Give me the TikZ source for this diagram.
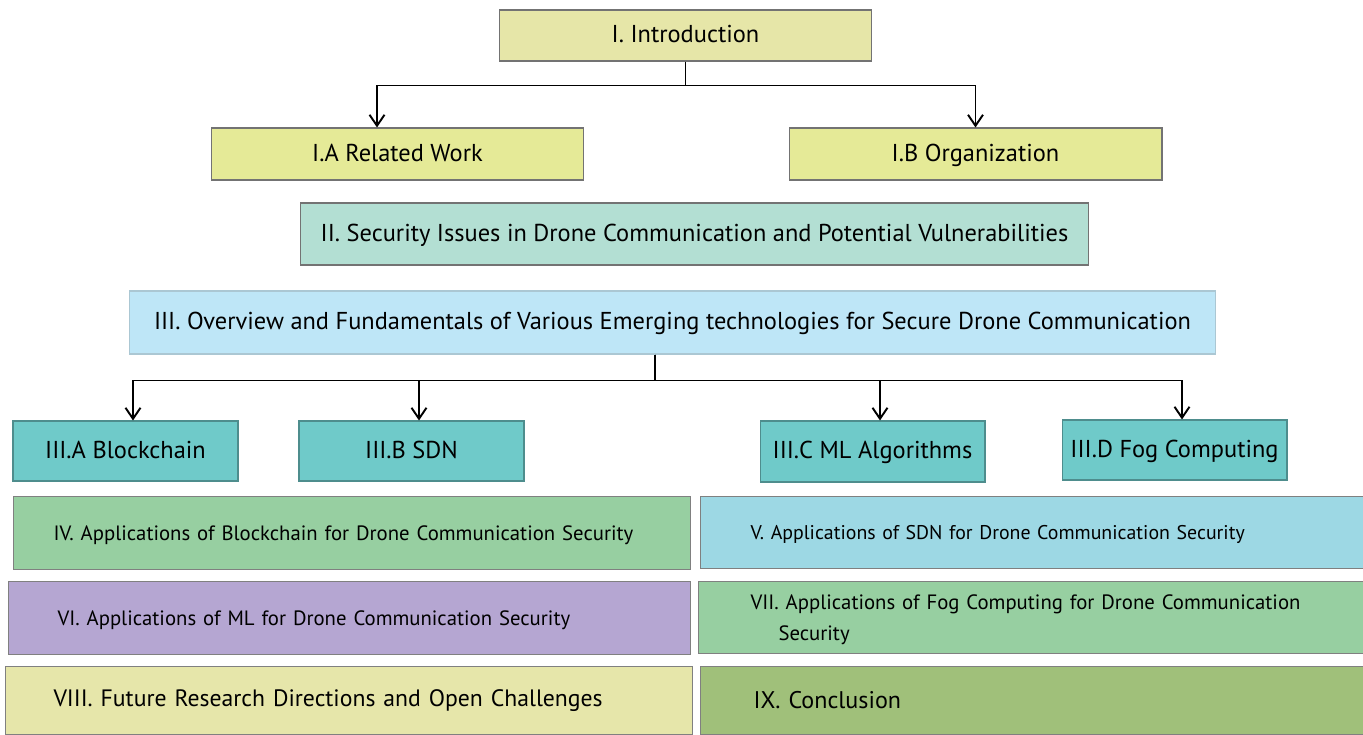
\documentclass[tikz,border=0pt]{standalone}
\usepackage{fontspec}
\setmainfont{PT Sans}
\usetikzlibrary{arrows.meta}

\definecolor{introcol}{HTML}{E6E6A8}
\definecolor{subcol}{HTML}{E5EA97}
\definecolor{secIIcol}{HTML}{B3DFD3}
\definecolor{secIIIcol}{HTML}{BEE6F7}
\definecolor{techcol}{HTML}{6FCAC9}
\definecolor{greencol}{HTML}{97CFA1}
\definecolor{bluecol}{HTML}{9DD8E4}
\definecolor{violetcol}{HTML}{B5A6D2}
\definecolor{futurecol}{HTML}{E6E6AA}
\definecolor{conclcol}{HTML}{A0C07A}

\tikzset{
  topbox/.style={draw=black!55, line width=0.6pt, inner sep=0pt, text height=2ex, text depth=0.3ex,
    font=\fontsize{13.9}{16}\selectfont},
  techbox/.style={draw=black!30!techcol, line width=0.6pt, fill=techcol, inner sep=0pt, text height=2ex, text depth=0.3ex,
    minimum width=4.5cm, minimum height=1.2cm, font=\fontsize{13.9}{16}\selectfont},
  lowbox/.style={draw=black!50, line width=0.6pt, anchor=north west, inner xsep=0pt, inner ysep=0pt,
    align=left, font=\fontsize{11.8}{18}\selectfont},
  lowered/.style={text height=2.1ex},
  link/.style={-{Straight Barb[length=0.22cm, width=0.3cm]}, draw=black, line width=1.1pt}
}

\begin{document}
\begin{tikzpicture}[x=0.02cm, y=-0.02cm]
		\useasboundingbox (0,0) rectangle (1363,734);

		\node[topbox, fill=introcol, minimum width=7.46cm, minimum height=1.02cm] (intro) at (685.5,35.5) {I. Introduction};
		\node[topbox, fill=subcol, minimum width=7.46cm, minimum height=1.04cm] (relwork) at (397.5,154) {I.A Related Work};
		\node[topbox, fill=subcol, minimum width=7.46cm, minimum height=1.04cm] (organization) at (975.5,154) {I.B Organization};
		\node[topbox, fill=secIIcol, minimum width=15.78cm, minimum height=1.24cm] (security) at (694.5,234) {II. Security Issues in Drone Communication and Potential Vulnerabilities};
		\node[topbox, draw=secIIIcol!70!gray, fill=secIIIcol, minimum width=21.74cm, minimum height=1.26cm] (overview) at (672.5,322.5) {III. Overview and Fundamentals of Various Emerging technologies for Secure Drone Communication};

		\node[techbox] (blockchain) at (125.5,451) {III.A Blockchain};
		\node[techbox] (sdn) at (411.5,451) {III.B SDN};
		\node[techbox, minimum height=1.22cm] (mlalgo) at (872.5,451.5) {III.C ML Algorithms};
		\node[techbox] (fog) at (1174.5,450) {III.D Fog Computing};

		\node[lowbox, lowered, fill=greencol, text width=13.54cm, minimum height=1.46cm] (appblock) at (13,496) {\hspace*{0.8cm}IV. Applications of Blockchain for Drone Communication Security};
		\node[lowbox, lowered, fill=bluecol, text width=13.26cm, minimum height=1.44cm, font=\fontsize{11.3}{18}\selectfont] (appsdn) at (700,496) {\hspace*{1.0cm}V. Applications of SDN for Drone Communication Security};
		\node[lowbox, lowered, fill=violetcol, text width=13.64cm, minimum height=1.46cm] (appml) at (8,581) {\hspace*{0.98cm}VI. Applications of ML for Drone Communication Security};
		\node[lowbox, lowered, fill=greencol, text width=13.3cm, minimum height=1.44cm, font=\fontsize{11.8}{17.5}\selectfont] (appfog) at (698,581) {\hspace*{1.04cm}VII. Applications of Fog Computing for Drone Communication\\\hspace*{1.6cm}Security};
		\node[lowbox, fill=futurecol, text width=13.74cm, minimum height=1.36cm, font=\fontsize{13.5}{16}\selectfont] (future) at (5,666) {\hspace*{0.96cm}VIII. Future Research Directions and Open Challenges};
		\node[lowbox, fill=conclcol, text width=13.26cm, minimum height=1.36cm, font=\fontsize{13.7}{16}\selectfont] (conclusion) at (700,666) {\hspace*{1.06cm}IX. Conclusion};

		\draw[link] (intro.south) -- ++(0,24) -| ([xshift=-0.41cm]relwork.north);
		\draw[link] (intro.south) -- ++(0,24) -| (organization.north);

		\draw[link] ([xshift=-0.35cm]overview.south) -- ++(0,26) -| ([xshift=0.15cm]blockchain.north);
		\draw[link] ([xshift=-0.35cm]overview.south) -- ++(0,26) -| ([xshift=0.15cm]sdn.north);
		\draw[link] ([xshift=-0.35cm]overview.south) -- ++(0,26) -| ([xshift=0.15cm]mlalgo.north);
		\draw[link] ([xshift=-0.35cm]overview.south) -- ++(0,26) -| ([xshift=0.15cm]fog.north);

\end{tikzpicture}
\end{document}
